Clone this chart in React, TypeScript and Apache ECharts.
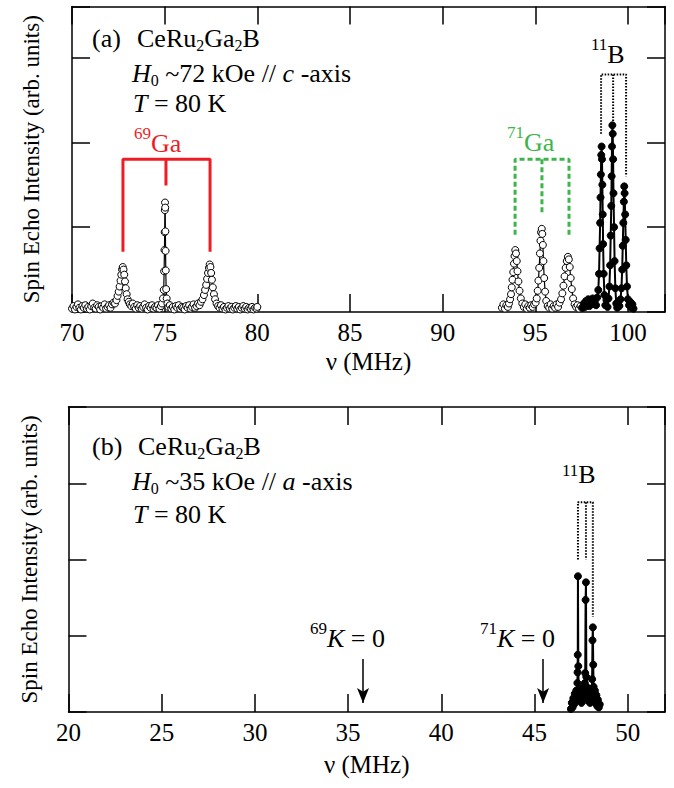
import React, { useEffect, useRef } from "react";
import * as echarts from "echarts";

const SERIF = "'Liberation Serif', 'Times New Roman', Times, serif";

// ---- Panel (a) data : frequency (MHz), intensity (arb. units) ----
const ga69Spectrum: [number, number][] = [
  [70.0, 0.04], [70.08, 0.07], [70.16, 0.03], [70.24, 0.06], [70.32, 0.09], [70.4, 0.05], [70.48, 0.03], [70.56, 0.07],
  [70.64, 0.05], [70.72, 0.08], [70.8, 0.04], [70.88, 0.06], [70.96, 0.03], [71.04, 0.07], [71.12, 0.1], [71.2, 0.05],
  [71.28, 0.04], [71.36, 0.08], [71.44, 0.06], [71.52, 0.03], [71.6, 0.07], [71.68, 0.05], [71.76, 0.09], [71.84, 0.04],
  [71.92, 0.06], [72.0, 0.08], [72.08, 0.05], [72.16, 0.09], [72.24, 0.11], [72.32, 0.1], [72.4, 0.14], [72.46, 0.19],
  [72.52, 0.24], [72.57, 0.3], [72.62, 0.37], [72.66, 0.44], [72.7, 0.5], [72.74, 0.53], [72.78, 0.5], [72.82, 0.44],
  [72.86, 0.36], [72.9, 0.28], [72.95, 0.21], [73.0, 0.15], [73.06, 0.12], [73.12, 0.09], [73.2, 0.07], [73.28, 0.1],
  [73.36, 0.06], [73.44, 0.04], [73.52, 0.08], [73.6, 0.05], [73.68, 0.07], [73.76, 0.04], [73.84, 0.06], [73.92, 0.09],
  [74.0, 0.05], [74.08, 0.03], [74.16, 0.07], [74.24, 0.05], [74.32, 0.08], [74.4, 0.04], [74.48, 0.06], [74.56, 0.05],
  [74.64, 0.08], [74.72, 0.04], [74.8, 0.07], [74.86, 0.1], [74.91, 0.16], [74.95, 0.26], [74.97, 0.48], [74.99, 0.73],
  [75.0, 0.94], [75.01, 1.2], [75.02, 1.29], [75.03, 1.23], [75.04, 0.95], [75.05, 0.72], [75.06, 0.49], [75.08, 0.27],
  [75.11, 0.16], [75.15, 0.1], [75.2, 0.06], [75.28, 0.08], [75.36, 0.04], [75.44, 0.06], [75.52, 0.03], [75.6, 0.07],
  [75.68, 0.05], [75.76, 0.08], [75.84, 0.04], [75.92, 0.06], [76.0, 0.05], [76.08, 0.03], [76.16, 0.07], [76.24, 0.05],
  [76.32, 0.08], [76.4, 0.04], [76.48, 0.06], [76.56, 0.09], [76.64, 0.05], [76.72, 0.07], [76.8, 0.1], [76.88, 0.08],
  [76.96, 0.12], [77.04, 0.15], [77.12, 0.2], [77.18, 0.26], [77.24, 0.32], [77.29, 0.39], [77.34, 0.46], [77.39, 0.52],
  [77.43, 0.56], [77.47, 0.53], [77.51, 0.46], [77.55, 0.38], [77.6, 0.29], [77.66, 0.21], [77.72, 0.15], [77.8, 0.1],
  [77.88, 0.07], [77.96, 0.05], [78.04, 0.08], [78.12, 0.04], [78.2, 0.06], [78.28, 0.03], [78.36, 0.05], [78.44, 0.07],
  [78.52, 0.04], [78.6, 0.06], [78.68, 0.03], [78.76, 0.05], [78.84, 0.07], [78.92, 0.04], [79.0, 0.06], [79.08, 0.03],
  [79.16, 0.05], [79.24, 0.07], [79.32, 0.04], [79.4, 0.06], [79.48, 0.03], [79.56, 0.05], [79.64, 0.04], [79.72, 0.06],
  [79.8, 0.03], [79.88, 0.05], [79.96, 0.04], [80.0, 0.06],
];

const ga71Spectrum: [number, number][] = [
  [93.2, 0.05], [93.28, 0.09], [93.36, 0.04], [93.44, 0.08], [93.52, 0.06], [93.58, 0.1], [93.64, 0.15], [93.69, 0.21],
  [93.73, 0.29], [93.77, 0.38], [93.81, 0.47], [93.85, 0.57], [93.88, 0.66], [93.92, 0.73], [93.96, 0.69], [94.0, 0.6],
  [94.04, 0.48], [94.09, 0.36], [94.15, 0.25], [94.22, 0.16], [94.3, 0.1], [94.38, 0.06], [94.46, 0.09], [94.54, 0.04],
  [94.62, 0.07], [94.7, 0.05], [94.78, 0.08], [94.86, 0.06], [94.94, 0.09], [95.02, 0.11], [95.08, 0.16], [95.13, 0.25],
  [95.17, 0.37], [95.21, 0.52], [95.25, 0.69], [95.28, 0.84], [95.31, 0.94], [95.35, 0.98], [95.38, 0.92], [95.41, 0.79],
  [95.44, 0.6], [95.48, 0.4], [95.53, 0.24], [95.59, 0.13], [95.67, 0.07], [95.75, 0.05], [95.83, 0.09], [95.91, 0.04],
  [95.99, 0.07], [96.07, 0.05], [96.15, 0.09], [96.23, 0.06], [96.31, 0.11], [96.39, 0.15], [96.46, 0.22], [96.52, 0.31],
  [96.58, 0.42], [96.64, 0.52], [96.7, 0.6], [96.76, 0.65], [96.81, 0.62], [96.86, 0.53], [96.91, 0.4], [96.97, 0.27],
  [97.04, 0.16], [97.12, 0.09], [97.2, 0.06], [97.28, 0.08], [97.36, 0.04], [97.44, 0.07], [97.52, 0.05],
];

const b11SpectrumA: [number, number][] = [
  [97.56, 0.05], [97.62, 0.1], [97.68, 0.06], [97.74, 0.13], [97.8, 0.08], [97.86, 0.15], [97.92, 0.07], [97.98, 0.12],
  [98.04, 0.09], [98.1, 0.16], [98.16, 0.1], [98.22, 0.14], [98.28, 0.08], [98.34, 0.17], [98.4, 0.26], [98.44, 0.45],
  [98.47, 0.75], [98.5, 1.05], [98.52, 1.35], [98.54, 1.62], [98.56, 1.85], [98.58, 1.95], [98.6, 1.8], [98.62, 1.5],
  [98.64, 1.15], [98.66, 0.8], [98.69, 0.45], [98.73, 0.2], [98.78, 0.08], [98.84, 0.14], [98.9, 0.06], [98.95, 0.16],
  [99.0, 0.3], [99.04, 0.55], [99.07, 0.9], [99.1, 1.25], [99.12, 1.6], [99.14, 1.95], [99.16, 2.2], [99.18, 2.1],
  [99.2, 1.8], [99.22, 1.4], [99.25, 1.0], [99.28, 0.6], [99.32, 0.28], [99.37, 0.1], [99.42, 0.05], [99.48, 0.12],
  [99.54, 0.07], [99.6, 0.15], [99.65, 0.28], [99.69, 0.5], [99.72, 0.78], [99.75, 1.05], [99.78, 1.3], [99.8, 1.48],
  [99.82, 1.4], [99.85, 1.15], [99.88, 0.85], [99.91, 0.55], [99.95, 0.3], [100.0, 0.15], [100.06, 0.08], [100.12, 0.12],
  [100.18, 0.05], [100.24, 0.09], [100.3, 0.04],
];

// ---- Panel (b) data ----
const b11SpectrumB: [number, number][] = [
  [46.95, 0.04], [47.0, 0.12], [47.04, 0.06], [47.08, 0.18], [47.12, 0.1], [47.16, 0.24], [47.2, 0.14], [47.24, 0.28],
  [47.27, 0.2], [47.3, 0.38], [47.31, 0.52], [47.32, 0.75], [47.33, 1.78], [47.35, 0.6], [47.37, 0.3], [47.4, 0.16],
  [47.43, 0.3], [47.46, 0.18], [47.49, 0.26], [47.52, 0.12], [47.55, 0.28], [47.58, 0.2], [47.61, 0.32], [47.64, 0.16],
  [47.67, 0.27], [47.7, 0.38], [47.72, 0.51], [47.74, 1.47], [47.76, 1.7], [47.78, 0.46], [47.8, 0.24], [47.83, 0.32],
  [47.86, 0.15], [47.89, 0.29], [47.92, 0.18], [47.95, 0.26], [47.98, 0.12], [48.01, 0.3], [48.04, 0.2], [48.07, 0.26],
  [48.09, 0.43], [48.11, 0.94], [48.13, 1.11], [48.15, 0.62], [48.17, 0.33], [48.2, 0.2], [48.24, 0.28], [48.28, 0.12],
  [48.32, 0.22], [48.36, 0.08], [48.4, 0.16], [48.45, 0.06], [48.5, 0.1],
];

// ---- annotation brackets (data coords): leg x positions, top, bottom of each leg ----
const ga69BracketX = [72.75, 75.07, 77.45];
const ga69BracketTop = 1.8;
const ga69BracketBottom = [0.71, 1.49, 0.71];

const ga71BracketX = [93.91, 95.36, 96.82];
const ga71BracketTop = 1.8;
const ga71BracketBottom = [0.91, 1.17, 0.91];

const b11BracketXA = [98.55, 99.2, 99.9];
const b11BracketTopA = 2.8;
const b11BracketBottomA = [2.1, 2.25, 1.6];

const b11BracketXB = [47.33, 47.76, 48.13];
const b11BracketTopB = 2.75;
const b11BracketBottomB = [2.0, 2.0, 1.25];

// K = 0 arrows in panel (b): x, from y, to y
const kArrowX = [35.8, 45.46];
const kArrowFrom = 0.695;
const kArrowTo = 0.118;

function bracketSegments(xs: number[], top: number, bottoms: number[]) {
  return [
    [[xs[0], bottoms[0]], [xs[0], top], [xs[2], top], [xs[2], bottoms[2]]],
    [[xs[1], top], [xs[1], bottoms[1]]],
  ];
}

function bracketSeries(xs: number[], top: number, bottoms: number[], axis: number, color: string, width: number, type: any) {
  return bracketSegments(xs, top, bottoms).map((seg) => ({
    type: "line",
    xAxisIndex: axis,
    yAxisIndex: axis,
    data: seg,
    symbol: "none",
    silent: true,
    z: 1,
    lineStyle: { color, width, type },
  }));
}

function makeRich(color: string, supH = 6) {
  return {
    i: { fontStyle: "italic", fontSize: 26, fontFamily: SERIF, lineHeight: 26, color },
    sub: { fontSize: 16, fontFamily: SERIF, height: 12, lineHeight: 12, verticalAlign: "bottom", color },
    sup: { fontSize: 17, fontFamily: SERIF, height: supH, lineHeight: supH, verticalAlign: "top", color },
  };
}

function label(text: string, x: number, y: number, color = "#000", supH = 6) {
  return {
    type: "text",
    x,
    y,
    silent: true,
    z: 10,
    style: {
      text,
      fontSize: 26,
      fontFamily: SERIF,
      lineHeight: 26,
      fill: color,
      verticalAlign: "top",
      align: "left",
      rich: makeRich(color, supH),
    },
  };
}

const axisLine = { show: true, onZero: false, lineStyle: { color: "#000", width: 1.5 } };
const axisTick = { show: true, inside: true, length: 18, lineStyle: { color: "#000", width: 1.5 } };

function xAxes(grid: number, min: number, max: number, nameGap: number) {
  return [
    {
      gridIndex: grid, type: "value", min, max, interval: 5, position: "bottom",
      axisLine, axisTick, splitLine: { show: false },
      axisLabel: {
        show: true, color: "#000", fontSize: 25, fontFamily: SERIF, margin: 8,
        formatter: (v: number) => (v % 5 === 0 && v < max ? String(v) : ""),
      },
      name: "\u03bd (MHz)", nameLocation: "middle", nameGap,
      nameTextStyle: { color: "#000", fontSize: 25, fontFamily: SERIF },
    },
    {
      gridIndex: grid, type: "value", min, max, interval: 5, position: "top",
      axisLine, axisTick, splitLine: { show: false }, axisLabel: { show: false },
    },
  ];
}

function yAxes(grid: number, max: number, nameGap: number) {
  return [
    {
      gridIndex: grid, type: "value", min: 0, max, interval: 1, position: "left",
      axisLine, axisTick, splitLine: { show: false }, axisLabel: { show: false },
      name: "Spin Echo Intensity (arb. units)", nameLocation: "middle", nameGap,
      nameTextStyle: { color: "#000", fontSize: 23, fontFamily: SERIF },
    },
    {
      gridIndex: grid, type: "value", min: 0, max, interval: 1, position: "right",
      axisLine, axisTick, splitLine: { show: false }, axisLabel: { show: false },
    },
  ];
}

const openPoints = {
  type: "line", symbol: "circle", symbolSize: 7, z: 3,
  itemStyle: { color: "#fff", borderColor: "#000", borderWidth: 1 },
  lineStyle: { color: "#000", width: 1.2 },
};
const filledPoints = {
  type: "line", symbol: "circle", symbolSize: 7, z: 4,
  itemStyle: { color: "#000", borderColor: "#000", borderWidth: 1 },
  lineStyle: { color: "#000", width: 2 },
};

const RED = "#ee1c25";
const GREEN = "#3cb54a";

const option: any = {
  animation: false,
  textStyle: { fontFamily: SERIF, color: "#000" },
  grid: [
    { left: 72, top: 6.5, width: 593, height: 305.5 },
    { left: 68.5, top: 407, width: 596.5, height: 305 },
  ],
  xAxis: [...xAxes(0, 70, 102, 37), ...xAxes(1, 20, 52, 40)],
  yAxis: [...yAxes(0, 3.6, 29), ...yAxes(1, 4, 28)],
  series: [
    { ...openPoints, xAxisIndex: 0, yAxisIndex: 0, data: ga69Spectrum },
    { ...openPoints, xAxisIndex: 0, yAxisIndex: 0, data: ga71Spectrum },
    { ...filledPoints, xAxisIndex: 0, yAxisIndex: 0, data: b11SpectrumA },
    {
      ...filledPoints, xAxisIndex: 2, yAxisIndex: 2, data: b11SpectrumB,
      markLine: {
        silent: true,
        symbol: ["none", "arrow"],
        symbolSize: [9, 15],
        label: { show: false },
        lineStyle: { color: "#000", width: 1.5, type: "solid" },
        data: kArrowX.map((x) => [{ coord: [x, kArrowFrom] }, { coord: [x, kArrowTo] }]),
      },
    },
    ...bracketSeries(ga69BracketX, ga69BracketTop, ga69BracketBottom, 0, RED, 3, "solid"),
    ...bracketSeries(ga71BracketX, ga71BracketTop, ga71BracketBottom, 0, GREEN, 3, [5, 3]),
    ...bracketSeries(b11BracketXA, b11BracketTopA, b11BracketBottomA, 0, "#000", 2, [1.5, 1.5]),
    ...bracketSeries(b11BracketXB, b11BracketTopB, b11BracketBottomB, 2, "#000", 2, [1.5, 1.5]),
  ],
  graphic: [
    label("(a)", 92, 25),
    label("CeRu{sub|2}Ga{sub|2}B", 137, 25),
    label("{i|H}{sub|0} ~72 kOe // {i|c} -axis", 132, 60),
    label("{i|T} = 80 K", 133, 90),
    label("{sup|69}Ga", 134, 130, RED),
    label("{sup|71}Ga", 507, 129, GREEN),
    label("{sup|11}B", 591, 41),
    label("(b)", 92, 433),
    label("CeRu{sub|2}Ga{sub|2}B", 138, 433),
    label("{i|H}{sub|0} ~35 kOe // {i|a} -axis", 132, 468),
    label("{i|T} = 80 K", 133, 501),
    label("{sup|11}B", 562, 461, "#000", 18),
    label("{sup|69}{i|K} = 0", 310, 625),
    label("{sup|71}{i|K} = 0", 480, 625),
  ],
};

export default function App() {
  const ref = useRef<HTMLDivElement>(null);
  useEffect(() => {
    const chart = echarts.init(ref.current!, null, { renderer: "svg" });
    chart.setOption(option);
    return () => chart.dispose();
  }, []);
  return <div ref={ref} style={{ position: "absolute", left: 0, top: 0, width: 674, height: 788 }} />;
}
